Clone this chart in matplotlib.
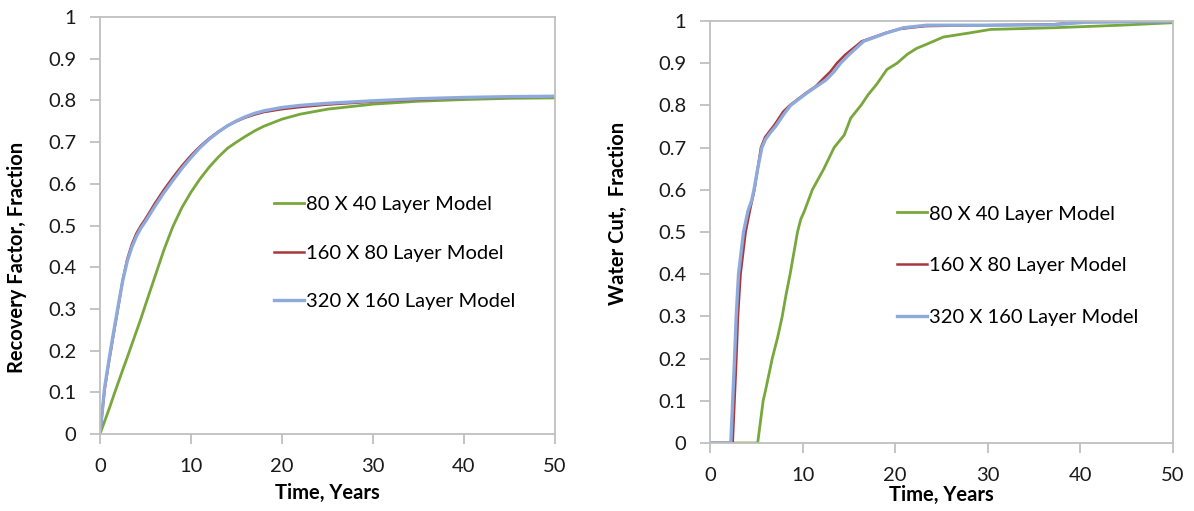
import matplotlib
matplotlib.use("Agg")
import matplotlib.pyplot as plt

plt.rcParams["font.family"] = ["Lato", "DejaVu Sans"]

# ---- data -------------------------------------------------------------------
labels = ["80 X 40 Layer Model", "160 X 80 Layer Model", "320 X 160 Layer Model"]
colors = ["#78A73C", "#A8383B", "#8EA9DB"]

# recovery factor (left)
t_rf = [0, 0.5, 1, 1.5, 2, 2.5, 3, 3.5, 4, 4.5, 5, 6, 7, 8, 9, 10, 11, 12, 13, 14,
        15, 16, 17, 18, 20, 22, 25, 30, 35, 40, 45, 50]
rf_80 = [0, 0.03, 0.06, 0.092, 0.123, 0.154, 0.184, 0.215, 0.246, 0.277, 0.31,
         0.375, 0.44, 0.497, 0.543, 0.58, 0.612, 0.64, 0.664, 0.685, 0.70, 0.714,
         0.727, 0.738, 0.755, 0.767, 0.779, 0.791, 0.798, 0.802, 0.805, 0.806]
rf_160 = [0, 0.105, 0.175, 0.24, 0.303, 0.37, 0.42, 0.455, 0.481, 0.50, 0.516,
          0.552, 0.585, 0.615, 0.643, 0.668, 0.69, 0.709, 0.725, 0.739, 0.75, 0.759,
          0.766, 0.772, 0.779, 0.784, 0.79, 0.797, 0.802, 0.806, 0.808, 0.809]
rf_320 = [0, 0.11, 0.18, 0.245, 0.308, 0.368, 0.415, 0.448, 0.474, 0.494, 0.51,
          0.545, 0.578, 0.608, 0.637, 0.663, 0.687, 0.707, 0.724, 0.739, 0.751, 0.761,
          0.769, 0.775, 0.783, 0.788, 0.793, 0.799, 0.804, 0.807, 0.809, 0.81]

# water cut (right)
t_wc_80 = [0, 5.15, 5.74, 6.0, 6.24, 6.72, 7.3, 7.8, 8.2, 8.65, 9.05, 9.45, 9.8,
           10.2, 11.05, 12.3, 13.4, 14.5, 15.2, 16.3, 17.1, 18, 19.1, 20.2, 21.3,
           22.3, 23.4, 25.2, 28.1, 30.3, 37.1, 44.3, 50]
wc_80 = [0, 0, 0.1, 0.125, 0.15, 0.2, 0.25, 0.3, 0.35, 0.4, 0.45, 0.5, 0.53,
         0.55, 0.6, 0.65, 0.7, 0.73, 0.77, 0.8, 0.826, 0.85, 0.885, 0.9, 0.921,
         0.935, 0.945, 0.962, 0.972, 0.98, 0.984, 0.99, 0.996]
t_wc_160 = [0, 2.45, 2.65, 2.85, 3.02, 3.3, 3.85, 4.3, 4.8, 5.15, 5.5, 5.95, 7.0,
            7.9, 8.6, 10.4, 11.4, 12.3, 13.0, 13.7, 14.6, 16.4, 19.0, 20.5, 22,
            23.4, 30, 37, 40.5, 50]
wc_160 = [0, 0, 0.1, 0.2, 0.3, 0.4, 0.5, 0.55, 0.6, 0.65, 0.7, 0.725, 0.755,
          0.785, 0.8, 0.83, 0.845, 0.865, 0.88, 0.9, 0.92, 0.952, 0.972, 0.981,
          0.985, 0.988, 0.99, 0.992, 0.998, 1.0]
t_wc_320 = [0, 2.25, 2.45, 2.65, 2.83, 3.08, 3.62, 4.1, 4.5, 4.75, 5.15, 5.6, 6.0,
            6.5, 7.07, 8.0, 8.7, 10.5, 11.5, 12.5, 13.4, 14.1, 15.0, 16.6, 19.1,
            20.9, 23.4, 30, 37, 40.5, 50]
wc_320 = [0, 0, 0.1, 0.2, 0.3, 0.4, 0.5, 0.55, 0.575, 0.6, 0.65, 0.7, 0.72,
          0.735, 0.75, 0.78, 0.8, 0.83, 0.845, 0.86, 0.88, 0.9, 0.92, 0.952, 0.972,
          0.984, 0.99, 0.99, 0.991, 0.997, 0.999]

GRID = "#BFBFBF"
FS = 14.5

fig = plt.figure(figsize=(11.94, 5.11), dpi=100)
ax1 = fig.add_axes([100 / 1194, 1 - 434 / 511, 455 / 1194, 417 / 511])
ax2 = fig.add_axes([710 / 1194, 1 - 443 / 511, 463 / 1194, 422 / 511])


def style(ax):
    ax.set_xlim(0, 50)
    ax.set_ylim(0, 1)
    ax.set_xticks(range(0, 51, 10))
    ax.set_yticks([i / 10 for i in range(11)])
    ax.set_yticklabels(["0"] + [f"{i / 10:.1f}" for i in range(1, 10)] + ["1"])
    for s in ax.spines.values():
        s.set_color(GRID)
        s.set_linewidth(1.3)
    ax.tick_params(direction="out", length=7, width=1.3, color=GRID,
                   labelsize=FS, labelcolor="#1a1a1a", pad=10)


style(ax1)
ax1.plot(t_rf, rf_80, color=colors[0], lw=2.0, label=labels[0])
ax1.plot(t_rf, rf_160, color=colors[1], lw=1.8, label=labels[1])
ax1.plot(t_rf, rf_320, color=colors[2], lw=2.4, label=labels[2])
ax1.set_xlabel("Time, Years", fontsize=FS, fontweight="bold")
ax1.set_ylabel("Recovery Factor, Fraction", fontsize=FS, fontweight="bold")
ax1.xaxis.set_label_coords(0.5, -0.118)
ax1.yaxis.set_label_coords(-0.16, 0.424)
ax1.legend(loc="upper left", bbox_to_anchor=(0.382, 0.57), frameon=False,
           fontsize=FS, handlelength=1.5, handletextpad=0.1, labelspacing=1.55,
           borderpad=0, borderaxespad=0)

style(ax2)
ax2.plot(t_wc_80, wc_80, color=colors[0], lw=2.0, label=labels[0])
ax2.plot(t_wc_160, wc_160, color=colors[1], lw=1.8, label=labels[1])
ax2.plot(t_wc_320, wc_320, color=colors[2], lw=2.4, label=labels[2])
ax2.set_xlabel("Time, Years", fontsize=FS, fontweight="bold")
ax2.set_ylabel("Water Cut,  Fraction", fontsize=FS, fontweight="bold")
ax2.xaxis.set_label_coords(0.5, -0.1)
ax2.yaxis.set_label_coords(-0.178, 0.545)
ax2.legend(loc="upper left", bbox_to_anchor=(0.404, 0.563), frameon=False,
           fontsize=FS, handlelength=1.5, handletextpad=0.1, labelspacing=1.72,
           borderpad=0, borderaxespad=0)

fig.savefig("out.png", dpi=100)
